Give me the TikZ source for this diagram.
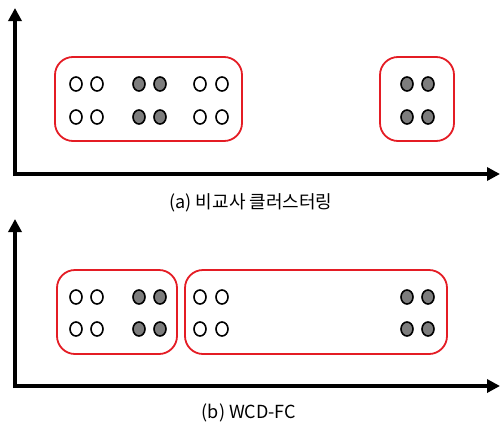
\documentclass[tikz,border=0pt]{standalone}
\usepackage{fontspec}
\newfontfamily\krfont{Noto Sans CJK KR}
\usetikzlibrary{arrows.meta,shapes.geometric}

\definecolor{clusterred}{RGB}{228,28,36}
\definecolor{dotgray}{RGB}{125,125,125}

\tikzset{
    axis/.style={line width=4pt, -{Triangle[length=13pt,width=13pt]}},
    cluster/.style={rectangle, draw=clusterred, line width=1.8pt, rounded corners=18pt},
    wdot/.style={ellipse, draw, line width=1.6pt, fill=white,
        minimum width=12pt, minimum height=14pt, inner sep=0pt},
    gdot/.style={wdot, fill=dotgray},
    caption/.style={font=\krfont\fontsize{18}{21}\selectfont}
}

\begin{document}
\begin{tikzpicture}[x=1pt, y=-1pt]
                \useasboundingbox (0,0) rectangle (502,423);
                % (a) upper plot
                \coordinate (oa) at (15,174);
                \coordinate (ya) at (15,8);
                \coordinate (xa) at (500,174);
                \draw[axis] ([yshift=-2pt]oa) -- (ya);
                \draw[axis] ([xshift=-2pt]oa) -- (xa);
                \node[cluster, minimum width=187pt, minimum height=84pt] (ca1) at (148.5,99) {};
                \node[cluster, minimum width=74pt, minimum height=84pt] (ca2) at (417,99) {};
                \node[wdot] (a11) at (76,84) {};
                \node[wdot] (a12) at (97,84) {};
                \node[gdot] (a13) at (139,84) {};
                \node[gdot] (a14) at (160,84) {};
                \node[wdot] (a15) at (200,84) {};
                \node[wdot] (a16) at (222,84) {};
                \node[gdot] (a17) at (407,84) {};
                \node[gdot] (a18) at (428,84) {};
                \node[wdot] (a21) at (76,117) {};
                \node[wdot] (a22) at (97,117) {};
                \node[gdot] (a23) at (139,117) {};
                \node[gdot] (a24) at (160,117) {};
                \node[wdot] (a25) at (200,117) {};
                \node[wdot] (a26) at (222,117) {};
                \node[gdot] (a27) at (407,117) {};
                \node[gdot] (a28) at (428,117) {};
                \node[caption] (capa) at (251,203) {(a) 비교사 클러스터링};
                % (b) lower plot
                \coordinate (ob) at (15,386);
                \coordinate (yb) at (15,219);
                \coordinate (xb) at (500,386);
                \draw[axis] ([yshift=-2pt]ob) -- (yb);
                \draw[axis] ([xshift=-2pt]ob) -- (xb);
                \node[cluster, minimum width=120pt, minimum height=84pt] (cb1) at (117,312) {};
                \node[cluster, minimum width=262pt, minimum height=84pt] (cb2) at (316,312) {};
                \node[wdot] (b11) at (76,297) {};
                \node[wdot] (b12) at (97,297) {};
                \node[gdot] (b13) at (139,297) {};
                \node[gdot] (b14) at (160,297) {};
                \node[wdot] (b15) at (200,297) {};
                \node[wdot] (b16) at (222,297) {};
                \node[gdot] (b17) at (407,297) {};
                \node[gdot] (b18) at (428,297) {};
                \node[wdot] (b21) at (76,329) {};
                \node[wdot] (b22) at (97,329) {};
                \node[gdot] (b23) at (139,329) {};
                \node[gdot] (b24) at (160,329) {};
                \node[wdot] (b25) at (200,329) {};
                \node[wdot] (b26) at (222,329) {};
                \node[gdot] (b27) at (407,329) {};
                \node[gdot] (b28) at (428,329) {};
                \node[caption] (capb) at (249,413) {(b) WCD-FC};
\end{tikzpicture}
\end{document}
